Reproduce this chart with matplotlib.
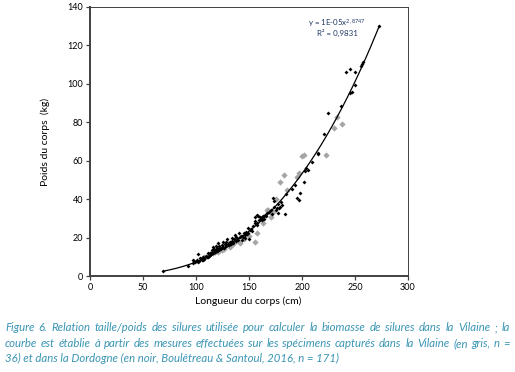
import numpy as np
import matplotlib
matplotlib.use('Agg')
import matplotlib.pyplot as plt

plt.rcParams['font.family'] = ['Lato', 'DejaVu Sans']
plt.rcParams['mathtext.default'] = 'regular'

# Dordogne (noir) - longueur (cm), poids (kg)
noir_x = [69.2, 92.7, 97.5, 97.5, 98.4, 99, 100.6, 101.6, 102.2, 103, 104, 105.4, 105.4, 106.3,
          106.9, 107.5, 108, 109, 110.1, 111, 111.6, 112, 113, 113.2, 114, 114.8, 115, 116,
          116.3, 117, 117.9, 118, 118.9, 119, 120, 120, 121, 121, 122, 122, 123, 124, 124.2,
          125, 125.8, 126, 127, 128, 128, 129, 130, 131, 132, 133, 133.7, 134, 135, 136,
          136.8, 137.7, 138, 139, 140, 140.9, 141.5, 142, 143, 143.1, 144.6, 145, 146, 146.2,
          147, 148, 149.4, 149.4, 150.3, 150.9, 152, 153, 154, 155.7, 155.7, 156, 157.2, 157.2,
          158, 158.8, 159, 160.4, 161, 162, 162, 163, 164, 165.1, 166, 167, 169, 171, 172,
          172.9, 173.9, 174, 175.5, 176, 177, 177.1, 178.6, 179.2, 180, 181.4, 184, 184.6,
          190.3, 193.4, 195.3, 197.5, 198.1, 201.9, 202.8, 203.5, 205.4, 209.7, 214.8, 215.4,
          220.5, 224.8, 236.8, 241.2, 245.3, 245.3, 247.2, 250, 250.3, 256, 256.9, 257.9, 273]
noir_y = [2.6, 5.2, 8.3, 6.6, 7.8, 7.4, 8.3, 7.4, 11.2, 8.0, 9.5, 9.2, 8.3, 9.7,
          8.3, 8.7, 9.0, 10.4, 10.0, 9.8, 11.8, 10.6, 12.0, 10.9, 11.2, 13.5, 12.4, 12.0,
          15.3, 14.0, 13.2, 12.6, 15.6, 13.4, 12.8, 14.8, 17.3, 13.6, 14.4, 15.8, 13.9, 14.6, 16.1,
          15.2, 17.9, 14.8, 16.4, 15.6, 17.6, 19.1, 16.8, 15.9, 17.9, 16.6, 19.6, 18.2, 17.4, 19.0,
          21.3, 20.1, 18.4, 19.8, 18.9, 22.2, 20.5, 21.0, 20.8, 18.7, 20.1, 22.4, 19.6, 21.3,
          23.0, 21.8, 22.2, 25.1, 19.1, 23.9, 24.6, 23.6, 25.8, 27.4, 30.9, 28.6, 26.5, 31.8,
          27.4, 31.4, 28.9, 30.9, 29.8, 29.2, 30.6, 31.2, 29.9, 31.8, 31.0, 32.8, 33.4, 34.6, 32.1,
          40.8, 39.0, 36.0, 34.4, 35.4, 33.0, 37.3, 35.2, 36.1, 38.6, 37.0, 32.1, 42.7,
          45.3, 47.4, 40.8, 39.6, 43.0, 48.8, 54.8, 56.0, 55.2, 59.5, 63.3, 64.2,
          73.8, 85.0, 88.7, 106.0, 95.1, 107.6, 95.9, 99.4, 106.0, 109.5, 110.4, 111.6, 130.0]

# Vilaine (gris)
gris_x = [108, 112, 116.3, 118, 121, 124.2, 126, 129, 130.5, 132.1, 135, 138, 141.5, 145,
          150, 155.7, 157.9, 163, 167.3, 168.2, 170.5, 170.8, 173, 175.2, 179.2, 183.3,
          186, 195, 197.5, 199.7, 202.2, 222.4, 230.5, 232.7, 238]
gris_y = [9.8, 10.8, 11.8, 12.5, 12.6, 13.5, 14.2, 16.1, 17.3, 15.3, 16.5, 18.0, 17.3, 19.5,
          21.0, 17.9, 22.2, 27.5, 34.4, 34.4, 33.0, 30.6, 33.5, 40.1, 48.8, 52.6,
          45.0, 51.5, 53.8, 62.6, 63.0, 63.0, 76.9, 82.6, 79.0]

# courbe de tendance y = a x^b
coef_a = 1.293e-05
coef_b = 2.8747
x_min, x_max = 69.2, 273

caption = ["Figure 6. Relation taille/poids des silures utilisée pour calculer la biomasse de silures dans la Vilaine ; la",
           "courbe est établie à partir des mesures effectuées sur les spécimens capturés dans la Vilaine (en gris, n =",
           "36) et dans la Dordogne (en noir, Boulêtreau & Santoul, 2016, n = 171)"]

W, H = 515, 372
fig = plt.figure(figsize=(W / 100, H / 100), dpi=100)
ax = fig.add_axes([90 / W, 1 - 276 / H, 318 / W, 269 / H])

ax.plot(gris_x, gris_y, 'D', color='#a5a5a5', ms=3.2, mec='none', zorder=2)
ax.plot(noir_x, noir_y, 'D', color='black', ms=2.0, mec='none', zorder=3)
xc = np.linspace(x_min, x_max, 200)
ax.plot(xc, coef_a * xc ** coef_b, color='black', lw=0.9, zorder=4)

ax.set_xlim(0, 300)
ax.set_ylim(0, 140)
ax.set_xticks(range(0, 301, 50))
ax.set_yticks(range(0, 141, 20))
ax.tick_params(direction='out', length=3, width=0.9, labelsize=6.5, pad=2, colors='#404040',
               labelcolor='black')
for side in ['left', 'bottom']:
    ax.spines[side].set_linewidth(1.4)
    ax.spines[side].set_color('#404040')
for side in ['top', 'right']:
    ax.spines[side].set_linewidth(0.7)
    ax.spines[side].set_color('#404040')

ax.set_xlabel('Longueur du corps (cm)', fontsize=7.5)
ax.set_ylabel('Poids du corps  (kg)', fontsize=7.5)
ax.xaxis.set_label_coords(158 / 318, -20 / 269)
ax.yaxis.set_label_coords(-40 / 318, 0.5)

ax.text(0.777, 0.942, 'y = 1E-05x$^{2,8747}$', transform=ax.transAxes, fontsize=5.7,
        color='#1f3864', ha='center', va='center')
ax.text(0.777, 0.905, 'R² = 0,9831', transform=ax.transAxes, fontsize=5.7,
        color='#1f3864', ha='center', va='center')

# légende en dessous, les deux premières lignes justifiées
cap_style = dict(fontsize=8.2, style='italic', color='#3a95b5', va='baseline')
r = fig.canvas.get_renderer()
for line, yp in zip(caption[:2], [331, 347]):
    words = line.split(' ')
    texts = [fig.text(0, 1 - yp / H, w, **cap_style) for w in words]
    widths = [t.get_window_extent(r).width for t in texts]
    gap = (510 - 5 - sum(widths)) / (len(words) - 1)
    x = 5
    for t, w in zip(texts, widths):
        t.set_x(x / W)
        x += w + gap
fig.text(5 / W, 1 - 362 / H, caption[2], **cap_style)

fig.savefig('out.png', dpi=100)
